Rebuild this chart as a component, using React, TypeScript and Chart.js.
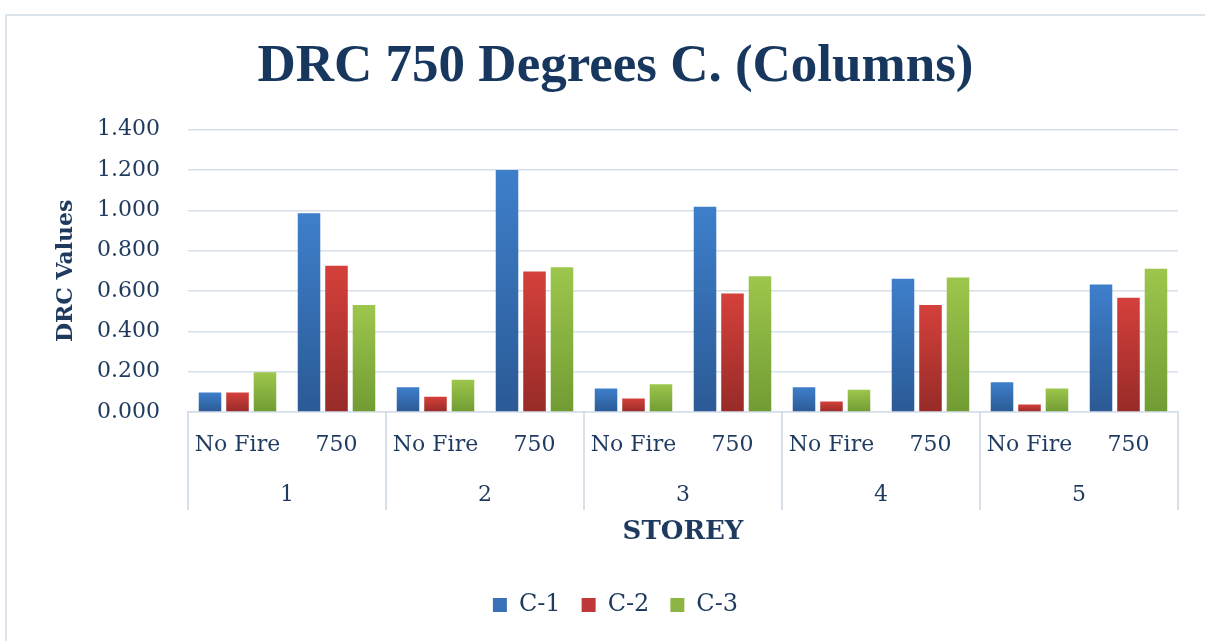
import React, { useEffect, useRef } from 'react';
import { Chart, registerables } from 'chart.js';

Chart.register(...registerables);

const titleText = 'DRC 750 Degrees C. (Columns)';
const storeys = ['1', '2', '3', '4', '5'];
const conditions = ['No Fire', '750'];
const seriesNames = ['C-1', 'C-2', 'C-3'];
const c1Values = [0.097, 0.985, 0.123, 1.2, 0.117, 1.018, 0.123, 0.66, 0.147, 0.632];
const c2Values = [0.097, 0.725, 0.075, 0.697, 0.067, 0.587, 0.052, 0.53, 0.037, 0.567];
const c3Values = [0.197, 0.53, 0.16, 0.717, 0.138, 0.673, 0.11, 0.667, 0.117, 0.71];
const yMin = 0;
const yMax = 1.4;
const yStep = 0.2;

const TEXT = '#1F3A5F';
const GRID = '#D6DFEA';

const seriesColors = [
  { top: '#3E7FCB', bottom: '#2B5A95', solid: '#3A70B5' },
  { top: '#D5403B', bottom: '#972B28', solid: '#C0393A' },
  { top: '#9DC64C', bottom: '#719C33', solid: '#8DB543' },
];

const makeFill = (top: string, bottom: string) => (ctx: any) => {
  const chart = ctx.chart;
  const y = chart.scales && chart.scales.y;
  if (!y || typeof ctx.raw !== 'number') return top;
  const yTop = y.getPixelForValue(ctx.raw);
  const yBase = y.getPixelForValue(0);
  if (!isFinite(yTop) || !isFinite(yBase) || yBase - yTop < 1) return bottom;
  const g = chart.ctx.createLinearGradient(0, yTop, 0, yBase);
  g.addColorStop(0, top);
  g.addColorStop(1, bottom);
  return g;
};

const groupPlugin = {
  id: 'groupLabels',
  afterDraw(chart: any) {
    const x = chart.scales.x;
    const area = chart.chartArea;
    const ctx = chart.ctx;
    const n = conditions.length;
    ctx.save();
    ctx.strokeStyle = '#CBD6E3';
    ctx.lineWidth = 1.5;
    const lineBottom = area.bottom + 98;
    for (let g = 0; g <= storeys.length; g++) {
      let px;
      if (g === 0) px = x.left;
      else if (g === storeys.length) px = x.right;
      else px = (x.getPixelForValue(g * n - 1) + x.getPixelForValue(g * n)) / 2;
      ctx.beginPath();
      ctx.moveTo(px, area.bottom);
      ctx.lineTo(px, lineBottom);
      ctx.stroke();
    }
    ctx.fillStyle = TEXT;
    ctx.font = '22px "DejaVu Serif"';
    ctx.textAlign = 'center';
    ctx.textBaseline = 'middle';
    storeys.forEach((s, g) => {
      const cx = (x.getPixelForValue(g * n) + x.getPixelForValue(g * n + n - 1)) / 2;
      ctx.fillText(s, cx, area.bottom + 83);
    });
    ctx.restore();
  },
};

export default function App() {
  const ref = useRef<HTMLCanvasElement | null>(null);

  useEffect(() => {
    if (!ref.current) return;
    const labels = storeys.flatMap(() => conditions);
    const seriesData = [c1Values, c2Values, c3Values];
    const chart = new Chart(ref.current, {
      type: 'bar',
      data: {
        labels,
        datasets: seriesNames.map((name, i) => ({
          label: name,
          data: seriesData[i],
          backgroundColor: makeFill(seriesColors[i].top, seriesColors[i].bottom),
          borderWidth: 0,
          categoryPercentage: 0.833,
          barPercentage: 0.82,
        })),
      },
      options: {
        responsive: false,
        animation: false,
        layout: { padding: { left: 53, right: 27, top: 0, bottom: 14 } },
        plugins: {
          title: {
            display: true,
            text: titleText,
            color: '#17375E',
            font: { family: '"Liberation Serif"', size: 53, weight: 'bold' },
            padding: { top: 36, bottom: 30 },
          },
          legend: {
            position: 'bottom',
            labels: {
              color: TEXT,
              font: { family: '"DejaVu Serif"', size: 24 },
              boxWidth: 14,
              boxHeight: 14,
              padding: 21,
              generateLabels: (chart: any) => {
                const items = Chart.defaults.plugins.legend.labels.generateLabels(chart);
                return items.map((it: any, i: number) => ({
                  ...it,
                  fillStyle: seriesColors[i].solid,
                  strokeStyle: seriesColors[i].solid,
                  lineWidth: 0,
                }));
              },
            },
          },
          tooltip: { enabled: false },
        },
        scales: {
          x: {
            offset: true,
            grid: { display: false, drawTicks: false },
            border: { display: true, color: GRID, width: 1.5 },
            ticks: {
              color: TEXT,
              font: { family: '"DejaVu Serif"', size: 22 },
              padding: 20,
              maxRotation: 0,
              autoSkip: false,
            },
            title: {
              display: true,
              text: 'STOREY',
              color: TEXT,
              font: { family: '"DejaVu Serif"', size: 26, weight: 'bold' },
              padding: { top: 0, bottom: 24 },
            },
            afterFit: (s: any) => {
              s.height = 160;
            },
          },
          y: {
            min: yMin,
            max: yMax,
            grid: { color: GRID, lineWidth: 1.5, drawTicks: false },
            border: { display: false },
            ticks: {
              stepSize: yStep,
              color: TEXT,
              font: { family: '"DejaVu Serif"', size: 22 },
              padding: 28,
              callback: (v: any) => Number(v).toFixed(3),
            },
            title: {
              display: true,
              text: 'DRC Values',
              color: TEXT,
              font: { family: '"DejaVu Serif"', size: 22, weight: 'bold' },
              padding: 0,
            },
            afterFit: (s: any) => {
              s.width = 135;
            },
          },
        },
      },
      plugins: [groupPlugin],
    });
    return () => chart.destroy();
  }, []);

  return (
    <div style={{ position: 'fixed', left: 0, top: 0, width: 1205, height: 641, background: '#FFFFFF' }}>
      <div
        style={{
          position: 'absolute',
          left: 5,
          top: 14,
          right: 0,
          bottom: 0,
          borderTop: '2px solid #DCE4EE',
          borderLeft: '2px solid #DCE4EE',
        }}
      />
      <canvas ref={ref} width={1205} height={641} style={{ position: 'absolute', left: 0, top: 0 }} />
    </div>
  );
}
